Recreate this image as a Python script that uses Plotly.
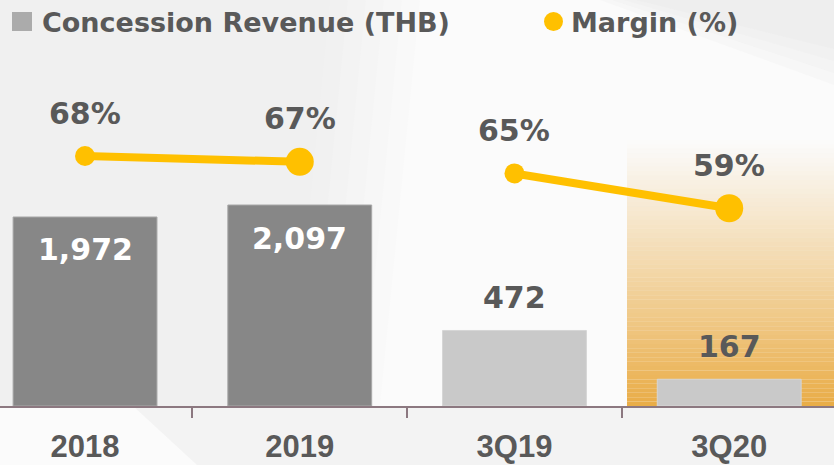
import plotly.graph_objects as go

# ---- data ----
categories = ["2018", "2019", "3Q19", "3Q20"]
revenue = [1972, 2097, 472, 167]
margin = [68, 67, 65, 59]
legend_labels = ["Concession Revenue (THB)", "Margin (%)"]

# ---- styling constants ----
W, H = 834, 465
ML, MR, MT, MB = 0, 0, 60, 59
PW, PH = W - ML - MR, H - MT - MB
LABEL_FONT = "DejaVu Sans"
TEXT = "#595959"
DARK_BAR = "#878787"
LIGHT_BAR = "#C9C9C9"
GOLD = "#FFC000"
AXIS = "#8C7880"


def px_x(p):
    return (p - ML) / PW


def px_y(p):
    return (H - MB - p) / PH


fig = go.Figure()

# annual bars (primary axis)
fig.add_trace(go.Bar(
    x=categories[:2], y=revenue[:2], width=0.67,
    marker=dict(color=DARK_BAR, line=dict(color="#A8A8A8", width=1)),
    yaxis="y", showlegend=False, hoverinfo="skip"))
# quarterly bars (secondary axis)
fig.add_trace(go.Bar(
    x=categories[2:], y=revenue[2:], width=0.67,
    marker=dict(color=LIGHT_BAR, line=dict(color="#D6D6D6", width=1)),
    yaxis="y2", showlegend=False, hoverinfo="skip"))
# margin lines
for sl in (slice(0, 2), slice(2, 4)):
    fig.add_trace(go.Scatter(
        x=categories[sl], y=margin[sl], mode="lines+markers",
        line=dict(color=GOLD, width=8),
        marker=dict(color=GOLD, size=[20, 28], opacity=1, line=dict(width=0)),
        yaxis="y3", showlegend=False, hoverinfo="skip"))

annotations = []
for i, c in enumerate(categories):
    if i < 2:
        annotations.append(dict(x=i, y=revenue[i], xref="x", yref="y", yshift=-33,
                                text=f"{revenue[i]:,}", showarrow=False,
                                font=dict(family=LABEL_FONT, size=30, color="white", weight="bold")))
    else:
        annotations.append(dict(x=i, y=revenue[i], xref="x", yref="y2", yshift=33,
                                text=f"{revenue[i]:,}", showarrow=False,
                                font=dict(family=LABEL_FONT, size=30, color=TEXT, weight="bold")))
    annotations.append(dict(x=i, y=margin[i], xref="x", yref="y3", yshift=43,
                            text=f"{margin[i]}%", showarrow=False,
                            font=dict(family=LABEL_FONT, size=30, color=TEXT, weight="bold")))

# legend (drawn)
annotations.append(dict(x=px_x(40), y=px_y(22), xref="paper", yref="paper", xanchor="left",
                        yanchor="middle", text=legend_labels[0], showarrow=False,
                        font=dict(family=LABEL_FONT, size=27, color=TEXT, weight="bold")))
annotations.append(dict(x=px_x(569), y=px_y(22), xref="paper", yref="paper", xanchor="left",
                        yanchor="middle", text=legend_labels[1], showarrow=False,
                        font=dict(family=LABEL_FONT, size=27, color=TEXT, weight="bold")))

shapes = []
# soft background tones (layered to soften edges)
for j in range(6):
    d = j * 18
    shapes.append(dict(type="path", xref="paper", yref="paper",
                       path=f"M {px_x(0)},{px_y(0)} L {px_x(330 + d)},{px_y(0)} L {px_x(290 + d)},{px_y(406)} L {px_x(0)},{px_y(406)} Z",
                       fillcolor="rgba(220,220,220,0.07)", line=dict(width=0), layer="below"))
for j in range(4):
    d = j * 12
    shapes.append(dict(type="path", xref="paper", yref="paper",
                       path=f"M {px_x(600 + d)},{px_y(0)} L {px_x(834)},{px_y(0)} L {px_x(834)},{px_y(85 - d)} Z",
                       fillcolor="rgba(225,225,225,0.12)", line=dict(width=0), layer="below"))
shapes.append(dict(type="path", xref="paper", yref="paper",
                   path=f"M {px_x(133)},{px_y(406)} L {px_x(834)},{px_y(406)} L {px_x(834)},{px_y(465)} L {px_x(197)},{px_y(465)} Z",
                   fillcolor="rgba(228,228,228,0.35)", line=dict(width=0), layer="below"))

# highlight gradient behind 3Q20
top, bot, n = 140, 406, 60
for k in range(n):
    y0 = top + (bot - top) * k / n
    y1 = top + (bot - top) * (k + 1) / n
    t = (k + 0.5) / n
    a = t ** 1.1
    shapes.append(dict(type="rect", xref="paper", yref="paper",
                       x0=px_x(627), x1=1, y0=px_y(y1), y1=px_y(y0),
                       fillcolor=f"rgba(233,172,70,{a:.3f})", line=dict(width=0), layer="below"))

# legend icons
shapes.append(dict(type="rect", xref="paper", yref="paper",
                   x0=px_x(12), x1=px_x(32), y0=px_y(31), y1=px_y(12),
                   fillcolor="#ABABAB", line=dict(width=0)))
shapes.append(dict(type="circle", xref="paper", yref="paper",
                   x0=px_x(544), x1=px_x(563), y0=px_y(31), y1=px_y(12),
                   fillcolor=GOLD, line=dict(width=0)))

fig.update_layout(
    width=W, height=H,
    margin=dict(l=ML, r=MR, t=MT, b=MB),
    paper_bgcolor="#FBFBFB", plot_bgcolor="rgba(0,0,0,0)",
    barmode="overlay",
    xaxis=dict(type="category", range=[-0.396, 3.488], showgrid=False, zeroline=False,
               showline=True, linecolor=AXIS, linewidth=2,
               ticks="outside", tickson="boundaries", ticklen=10, tickcolor=AXIS, tickwidth=2,
               ticklabelstandoff=12,
               tickfont=dict(family="Liberation Sans", size=31, color=TEXT, weight="bold")),
    yaxis=dict(range=[0, 3610], visible=False, fixedrange=True),
    yaxis2=dict(range=[0, 2162], visible=False, overlaying="y"),
    yaxis3=dict(range=[24.9, 84.56], visible=False, overlaying="y"),
    annotations=annotations,
    shapes=shapes,
)

fig.write_html("out.html", config={"displayModeBar": False},
               post_script="document.body.style.margin='0px';")
